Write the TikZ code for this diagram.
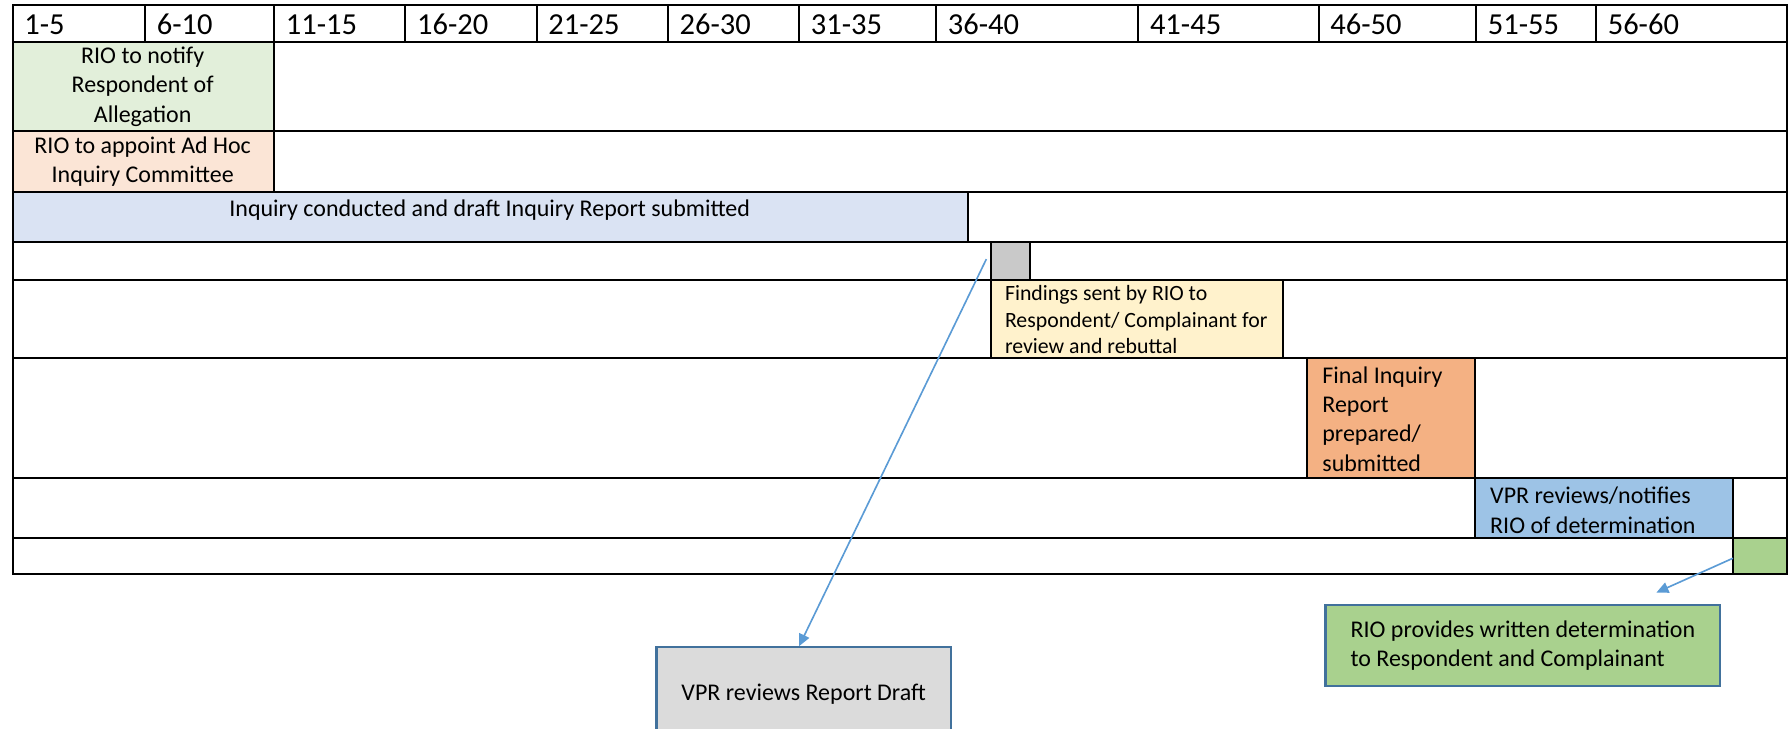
\documentclass[tikz,border=0pt]{standalone}
\usepackage{fontspec}
\setmainfont{Carlito}
\usetikzlibrary{arrows.meta,calc}

\definecolor{notifyc}{HTML}{E2EFDA}
\definecolor{appointc}{HTML}{FBE5D6}
\definecolor{inquiryc}{HTML}{DAE3F3}
\definecolor{draftc}{HTML}{C9C9C9}
\definecolor{findingsc}{HTML}{FFF2CC}
\definecolor{finalc}{HTML}{F4B183}
\definecolor{vprc}{HTML}{9DC3E6}
\definecolor{writtenc}{HTML}{A9D18E}
\definecolor{calloutgray}{HTML}{DBDBDB}
\definecolor{calloutline}{HTML}{41719C}
\definecolor{arrowc}{HTML}{5B9BD5}

\tikzset{
  grid/.style={line width=0.9pt, black},
  hd/.style={font=\fontsize{14}{17}\selectfont, anchor=base west, inner sep=0pt},
  txt/.style={font=\fontsize{11}{13.45}\selectfont, inner sep=0pt},
  smalltxt/.style={font=\fontsize{10}{12}\selectfont, inner sep=0pt, align=left},
  callout/.style={draw=calloutline, line width=1pt, font=\fontsize{11}{13.45}\selectfont},
  link/.style={arrowc, line width=0.75pt, -{Triangle[length=5.5pt,width=5pt]}}
}

\begin{document}
\begin{tikzpicture}[x=0.5238pt, y=-0.5238pt]
\useasboundingbox (0,0) rectangle (1568,638);
\clip (0,0) rectangle (1568,638);
% coloured cells
\fill[notifyc] (11,37) rectangle (240,115);
\fill[appointc] (11,115) rectangle (240,168);
\fill[inquiryc] (11,168) rectangle (848,212);
\fill[draftc] (868,212) rectangle (902,245);
\fill[findingsc] (868,245) rectangle (1124,314);
\fill[finalc] (1145,314) rectangle (1292,419);
\fill[vprc] (1292,419) rectangle (1518,471);
\fill[writtenc] (1518,471) rectangle (1565,503);
% table lines
\draw[grid] (11,4) rectangle (1565,503);
\foreach \y in {37,115,168,212,245,314,419,471}
  \draw[grid] (11,\y) -- (1565,\y);
\foreach \x in {127,240,355,470,585,700,820,997,1155,1293,1398}
  \draw[grid] (\x,4) -- (\x,37);
\draw[grid] (240,37) -- (240,168);
\draw[grid] (848,168) -- (848,212);
\draw[grid] (868,212) -- (868,314);
\draw[grid] (902,212) -- (902,245);
\draw[grid] (1124,245) -- (1124,314);
\draw[grid] (1145,314) -- (1145,419);
\draw[grid] (1292,314) -- (1292,471);
\draw[grid] (1518,419) -- (1518,503);
% header
\foreach \x/\t [count=\i] in {11/1-5,127/6-10,240/11-15,355/16-20,470/21-25,585/26-30,
    700/31-35,820/36-40,997/41-45,1155/46-50,1293/51-55,1398/56-60}
  \node[hd] (h\i) at (\x+10,30) {\t};
% tasks
\node[txt, align=center] (notify) at (125,76) {RIO to notify\\Respondent of\\Allegation};
\node[txt, align=center] (appoint) at (125,141.5) {RIO to appoint Ad Hoc\\Inquiry Committee};
\node[txt, anchor=base] (inquiry) at (429,190) {Inquiry conducted and draft Inquiry Report submitted};
\node[smalltxt, anchor=west] (findings) at (880,280) {Findings sent by RIO to\\Respondent/ Complainant for\\review and rebuttal};
\node[txt, align=left, anchor=west] (final) at (1158,367) {Final Inquiry\\Report\\prepared/\\submitted};
\node[txt, align=left, anchor=west] (vprnote) at (1305,447) {VPR reviews/notifies\\RIO of determination};
% callouts
\coordinate (grayfrom) at (864,227);
\coordinate (greenfrom) at (1518,489);
\node[callout, fill=calloutgray, minimum width=135.1pt, minimum height=43.5pt] (vprbox) at (704,608.5) {VPR reviews Report Draft};
\node[callout, fill=writtenc, align=left, minimum width=181.2pt, minimum height=37.2pt] (riobox) at (1334,565.5) {RIO provides written determination\\to Respondent and Complainant};
\draw[link] (grayfrom) -- ($(vprbox.north)+(-4,0)$);
\draw[link] (greenfrom) -- ($(riobox.north)+(117,-10)$);
\end{tikzpicture}
\end{document}
